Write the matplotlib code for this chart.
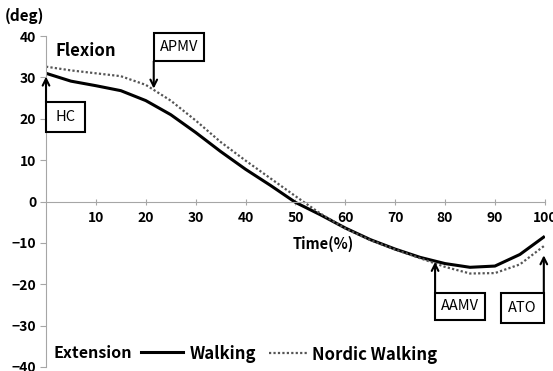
import matplotlib
matplotlib.use("Agg")
import matplotlib.pyplot as plt
from matplotlib.patches import Rectangle
from matplotlib.lines import Line2D

# ---- data ----
time_pct = [0, 5, 10, 15, 20, 25, 30, 35, 40, 45, 50, 55, 60, 65, 70, 75, 80, 85, 90, 95, 100]
walking = [31.0, 29.1, 28.0, 26.8, 24.4, 21.0, 16.7, 12.1, 7.8, 3.9, -0.2, -3.2, -6.4, -9.2,
           -11.5, -13.5, -15.0, -15.9, -15.6, -12.8, -8.4]
nordic = [32.6, 31.7, 31.0, 30.3, 28.2, 24.4, 19.6, 14.4, 9.9, 5.6, 1.3, -2.9, -6.5, -9.3,
          -11.6, -13.7, -15.8, -17.4, -17.3, -15.2, -10.6]
x_ticks = [10, 20, 30, 40, 50, 60, 70, 80, 90, 100]
y_ticks = [-40, -30, -20, -10, 0, 10, 20, 30, 40]
series_names = ["Walking", "Nordic Walking"]

plt.rcParams['font.family'] = ['Noto Sans CJK KR', 'DejaVu Sans']
plt.rcParams['font.weight'] = 'bold'

fig = plt.figure(figsize=(5.53, 3.71), dpi=100)
ax = fig.add_axes([0.0832, 0.0108, 0.902, 0.892])
ax.set_xlim(0, 100)
ax.set_ylim(-40, 40)

ax.plot(time_pct, walking, color='black', lw=2.2, solid_capstyle='butt',
        solid_joinstyle='round')
ax.plot(time_pct, nordic, color='#555555', lw=1.6, linestyle=(0, (1, 1)))

for s in ['top', 'right']:
    ax.spines[s].set_visible(False)
ax.spines['bottom'].set_position(('data', 0))
ax.spines['bottom'].set_color('#a6a6a6')
ax.spines['left'].set_color('#a6a6a6')
ax.set_xticks(x_ticks)
ax.set_yticks(y_ticks)
ax.tick_params(axis='x', direction='inout', length=5, color='#a6a6a6', pad=4,
               labelsize=10)
ax.tick_params(axis='y', direction='out', length=4, color='#a6a6a6', pad=3,
               labelsize=10)
for lab in ax.get_xticklabels() + ax.get_yticklabels():
    lab.set_fontweight('bold')

fig.text(5 / 553, 1 - 16 / 371, "(deg)", fontsize=11, fontweight='bold',
         ha='left', va='center')
ax.text(55.5, -10.2, "Time(%)", fontsize=10.5, fontweight='bold', ha='center', va='center')
ax.text(2, 36.3, "Flexion", fontsize=12, fontweight='bold', ha='left', va='center')

def box(x0, x1, y0, y1, label):
    r = Rectangle((x0, y0), x1 - x0, y1 - y0, fill=True, facecolor='white',
                  edgecolor='black', lw=1.5, clip_on=False, zorder=5)
    ax.add_patch(r)
    ax.text((x0 + x1) / 2, (y0 + y1) / 2, label, fontsize=10.5, fontweight='medium',
            ha='center', va='center', zorder=6)

def arrow(x, y_from, y_to):
    ax.annotate("", xy=(x, y_to), xytext=(x, y_from),
                arrowprops=dict(arrowstyle='->', lw=1.5, color='black',
                                mutation_scale=12, shrinkA=0, shrinkB=0),
                annotation_clip=False, zorder=6)

box(21.6, 31.6, 33.9, 40.7, "APMV")
arrow(21.6, 33.9, 27.3)
box(0.0, 7.8, 16.7, 24.0, "HC")
arrow(0.0, 24.0, 30.2)
box(78.0, 88.0, -28.6, -22.0, "AAMV")
arrow(78.0, -22.0, -14.6)
box(91.2, 99.8, -29.3, -22.0, "ATO")
arrow(99.8, -22.0, -13.0)

# legend-like row
ax.text(1.6, -36.6, "Extension", fontsize=11.5, fontweight='bold', ha='left', va='center')
ax.add_line(Line2D([19, 27.4], [-36.3, -36.3], color='black', lw=2.2, clip_on=False))
ax.text(28.8, -36.8, series_names[0], fontsize=12, fontweight='bold', ha='left', va='center')
ax.add_line(Line2D([44.8, 52.4], [-36.6, -36.6], color='#555555', lw=1.6,
                   linestyle=(0, (1, 1)), clip_on=False))
ax.text(53.4, -37.0, series_names[1], fontsize=12, fontweight='bold', ha='left', va='center')

fig.savefig("out.png", dpi=100)
